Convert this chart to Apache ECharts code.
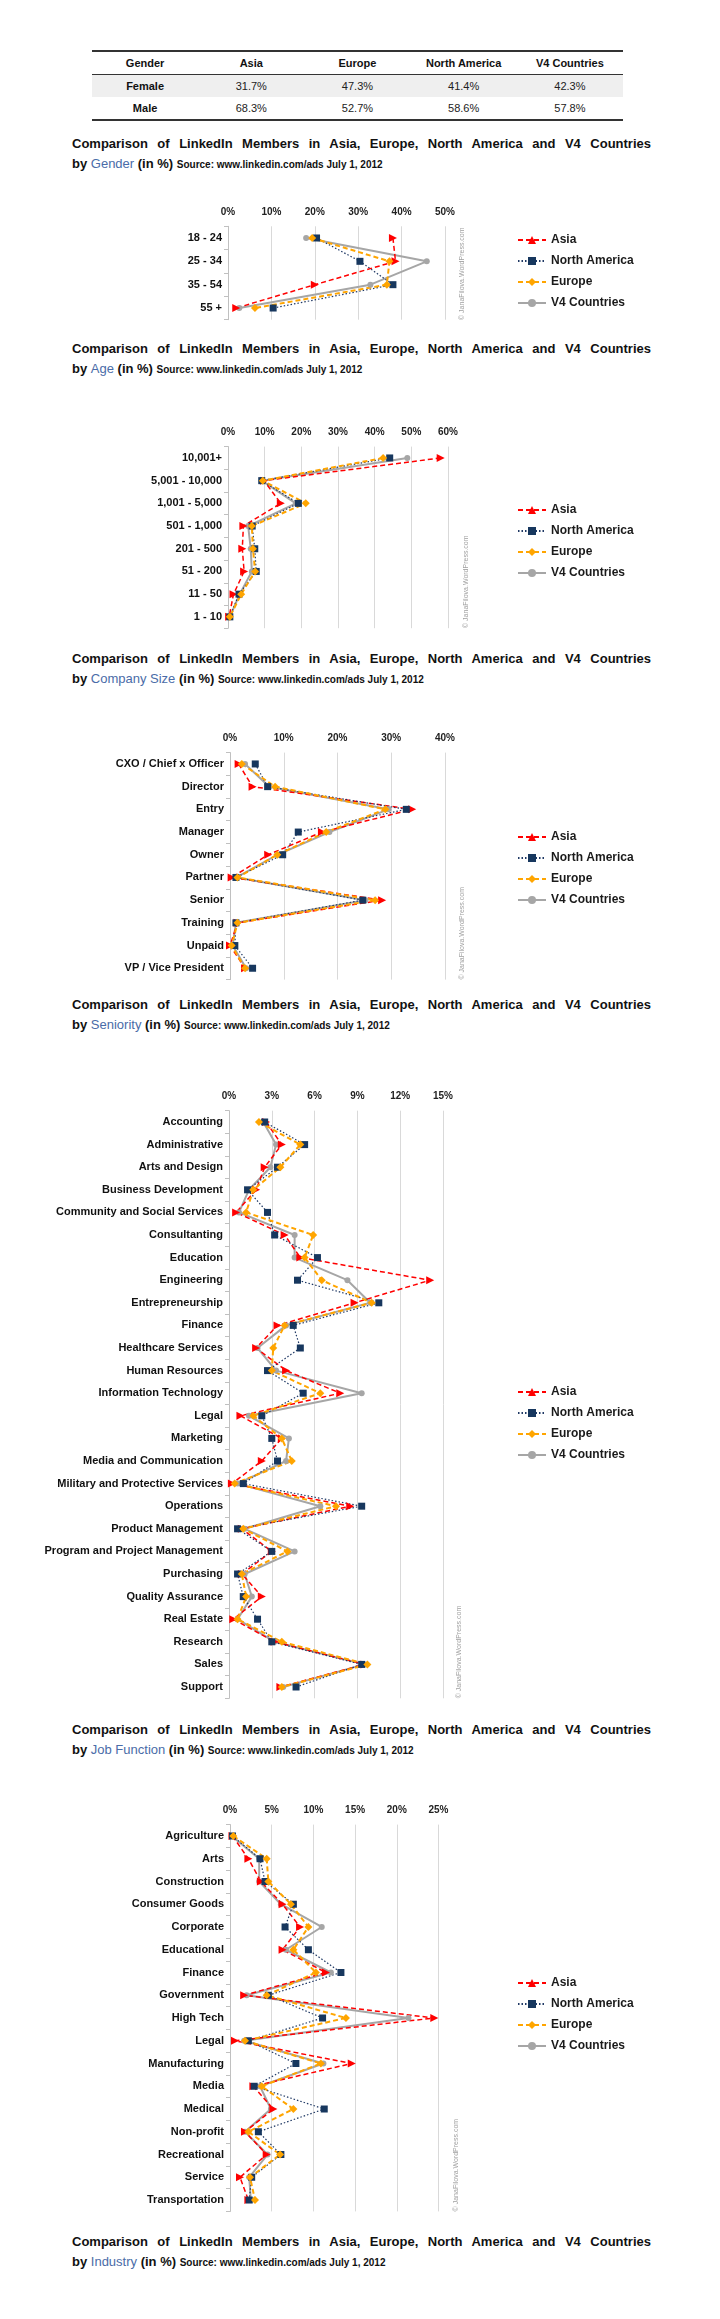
<!DOCTYPE html>
<html><head><meta charset="utf-8">
<script src="https://cdn.jsdelivr.net/npm/echarts@6/dist/echarts.min.js"></script>
<style>
html,body{margin:0;padding:0;background:#fff;}
body{width:720px;height:2319px;position:relative;font-family:"Liberation Sans",Arial,sans-serif;overflow:hidden;}
.abs{position:absolute;}
#tbl{left:92px;top:50px;width:531px;border-collapse:collapse;font-size:11px;color:#222;table-layout:fixed;}
#tbl td,#tbl th{text-align:center;padding:0;height:22px;width:20%;}
#tbl thead tr{border-top:2px solid #333;border-bottom:1.5px solid #333;}
#tbl th{font-weight:bold;color:#111;}
#tbl tbody tr:last-child{border-bottom:2px solid #333;}
#tbl tbody tr.alt{background:#efefef;}
#tbl td.first{font-weight:bold;color:#111;}
.t1{left:72px;width:579px;font-weight:bold;font-size:13px;line-height:16px;color:#111;text-align:justify;text-align-last:justify;}
.t2{left:72px;width:600px;font-weight:bold;font-size:13px;line-height:16px;color:#111;white-space:nowrap;}
.t2 .cat{color:#4a6ca8;font-weight:normal;}
.t2 .src{font-size:10px;}
.chart{left:0;width:720px;}
</style></head>
<body>
<table id="tbl" class="abs"><thead></thead><tbody></tbody></table>
<div id="titles"></div>
<div id="c1" class="abs chart" style="top:195px;height:135px"></div>
<div id="c2" class="abs chart" style="top:410px;height:230px"></div>
<div id="c3" class="abs chart" style="top:715px;height:275px"></div>
<div id="c4" class="abs chart" style="top:1075px;height:635px"></div>
<div id="c5" class="abs chart" style="top:1790px;height:430px"></div>
<script>
// ---------- DATA ----------
var tableHead = ['Gender','Asia','Europe','North America','V4 Countries'];
var femaleRow = ['Female','31.7%','47.3%','41.4%','42.3%'];
var maleRow   = ['Male','68.3%','52.7%','58.6%','57.8%'];

var titleLine1 = 'Comparison of LinkedIn Members in Asia, Europe, North America and V4 Countries';
var titleCats = ['Gender','Age','Company Size','Seniority','Job Function','Industry'];
var sourceText = 'Source: www.linkedin.com/ads July 1, 2012';
var seriesNames = ['Asia','North America','Europe','V4 Countries'];
var watermark = '\u00a9 JanaFilova.WordPress.com';

var ageCats = ['18 - 24','25 - 34','35 - 54','55 +'];
var ageAsia = [38.0, 38.6, 20.0, 1.9];
var ageNA = [20.4, 30.4, 38.0, 10.4];
var ageEurope = [19.4, 37.2, 36.6, 6.2];
var ageV4 = [18.0, 45.8, 32.8, 2.6];

var sizeCats = ['10,001+','5,001 - 10,000','1,001 - 5,000','501 - 1,000','201 - 500','51 - 200','11 - 50','1 - 10'];
var sizeAsia = [58.0, 9.8, 14.4, 4.2, 3.9, 4.4, 1.5, 0.3];
var sizeNA = [44.1, 9.2, 19.2, 6.6, 7.3, 7.7, 3.0, 0.5];
var sizeEurope = [42.3, 9.5, 21.2, 6.5, 6.8, 7.4, 3.6, 0.5];
var sizeV4 = [48.9, 9.2, 18.5, 5.5, 6.2, 6.5, 3.2, 0.5];

var senCats = ['CXO / Chief x Officer','Director','Entry','Manager','Owner','Partner','Senior','Training','Unpaid','VP / Vice President'];
var senAsia = [1.6, 4.2, 33.9, 17.1, 7.1, 0.3, 28.3, 1.4, 0.0, 2.8];
var senNA = [4.7, 7.0, 32.8, 12.7, 9.8, 1.1, 24.7, 1.1, 0.9, 4.2];
var senEurope = [2.2, 8.4, 28.9, 17.9, 8.8, 1.4, 27.0, 1.4, 0.3, 2.8];
var senV4 = [2.8, 7.3, 29.5, 18.5, 8.8, 1.2, 25.2, 1.1, 0.5, 3.0];

var jobCats = ['Accounting','Administrative','Arts and Design','Business Development','Community and Social Services','Consultanting','Education','Engineering','Entrepreneurship','Finance','Healthcare Services','Human Resources','Information Technology','Legal','Marketing','Media and Communication','Military and Protective Services','Operations','Product Management','Program and Project Management','Purchasing','Quality Assurance','Real Estate','Research','Sales','Support'];
var jobAsia = [2.6,3.7,2.5,1.9,0.5,3.9,5.0,14.1,8.8,3.4,1.9,4.0,7.8,0.8,3.7,2.3,0.2,8.5,0.9,3.0,0.9,2.3,0.3,3.2,9.5,3.6];
var jobNA = [2.5,5.3,3.4,1.3,2.7,3.2,6.2,4.8,10.5,4.5,5.0,2.7,5.2,2.3,3.0,3.4,1.0,9.3,0.6,3.0,0.6,1.0,2.0,3.0,9.3,4.7];
var jobEurope = [2.1,5.0,3.6,1.7,1.2,5.9,5.3,6.5,10.0,3.9,3.1,3.0,6.4,1.7,3.7,4.4,0.4,7.5,1.0,4.1,0.9,1.2,0.6,3.7,9.7,3.7];
var jobV4 = [2.4,3.3,2.9,1.4,0.7,4.6,4.6,8.3,9.9,4.0,2.0,3.3,9.3,1.4,4.2,4.0,0.6,6.4,1.1,4.6,1.1,1.6,0.6,3.2,9.5,3.8];

var indCats = ['Agriculture','Arts','Construction','Consumer Goods','Corporate','Educational','Finance','Government','High Tech','Legal','Manufacturing','Media','Medical','Non-profit','Recreational','Service','Transportation'];
var indAsia = [0.3,2.2,3.7,6.3,8.4,6.3,11.5,1.7,24.5,0.6,14.6,2.8,5.2,1.8,4.4,1.2,2.2];
var indNA = [0.3,3.6,4.2,7.6,6.6,9.4,13.3,4.6,11.1,2.2,7.9,2.9,11.3,3.4,6.1,2.6,2.3];
var indEurope = [0.4,4.4,4.6,7.3,9.4,7.6,10.3,4.4,13.9,1.8,10.9,3.8,7.6,2.2,6.0,2.4,3.0];
var indV4 = [0.2,3.5,3.5,6.1,11.0,6.7,12.1,2.0,21.4,1.7,11.2,3.6,4.9,1.8,4.5,2.3,2.5];

// ---------- LAYOUT ----------
var titleY = [136, 341, 651, 997, 1722, 2234];
var FONT = '"Liberation Sans", Arial, sans-serif';
var LEGFONT = '"Liberation Sans Narrow", "Arial Narrow", "Liberation Sans", Arial, sans-serif';

// table
(function(){
  var th = document.querySelector('#tbl thead');
  var tr = document.createElement('tr');
  tableHead.forEach(function(h){ var c=document.createElement('th'); c.textContent=h; tr.appendChild(c); });
  th.appendChild(tr);
  var tb = document.querySelector('#tbl tbody');
  [femaleRow, maleRow].forEach(function(row, i){
    var r = document.createElement('tr'); if(i===0) r.className='alt';
    row.forEach(function(v, j){ var c=document.createElement('td'); c.textContent=v; if(j===0) c.className='first'; r.appendChild(c); });
    tb.appendChild(r);
  });
})();

// titles
(function(){
  var host = document.getElementById('titles');
  titleCats.forEach(function(cat, i){
    var a = document.createElement('div'); a.className='abs t1'; a.style.top = titleY[i]+'px'; a.textContent = titleLine1; host.appendChild(a);
    var b = document.createElement('div'); b.className='abs t2'; b.style.top = (titleY[i]+20)+'px';
    b.innerHTML = 'by <span class="cat"></span> (in %) <span class="src"></span>';
    b.querySelector('.cat').textContent = cat;
    b.querySelector('.src').textContent = sourceText;
    host.appendChild(b);
  });
})();

function buildOption(cfg){
  return {
    animation:false,
    textStyle:{fontFamily:FONT},
    grid:{left:cfg.left, top:cfg.top, width:cfg.width, height:cfg.height},
    xAxis:{type:'value', position:'top', min:0, max:cfg.max, interval:cfg.interval,
      axisLine:{show:false}, axisTick:{show:false},
      axisLabel:{formatter:'{value}%', fontSize:10, fontWeight:'bold', color:'#222', margin:9, fontFamily:FONT},
      splitLine:{lineStyle:{color:'#d9d9d9', width:1}}},
    yAxis:{type:'category', inverse:true, data:cfg.cats,
      axisLine:{lineStyle:{color:'#c0c0c0', width:1}},
      axisTick:{show:true, length:4, lineStyle:{color:'#c0c0c0'}},
      axisLabel:{fontSize:11, fontWeight:'bold', color:'#111', margin:6, fontFamily:FONT}},
    legend:{orient:'vertical', left:512, top:cfg.legTop, itemWidth:28, itemHeight:10, itemGap:9,
      selectedMode:false, symbolRotate:0, data:seriesNames,
      textStyle:{fontSize:12, fontWeight:'bold', color:'#1a1a1a', fontFamily:LEGFONT}},
    graphic:[{type:'text', x:cfg.wmX, y:cfg.wmY, rotation:Math.PI/2,
      style:{text:watermark, fill:'#a0a0a0', fontSize:7, fontFamily:FONT, align:'left', verticalAlign:'middle'}}],
    series:[
      {name:seriesNames[3], type:'line', data:cfg.v4, symbol:'circle', symbolSize:6,
        lineStyle:{color:'#a6a6a6', width:2}, itemStyle:{color:'#a6a6a6'}},
      {name:seriesNames[0], type:'line', data:cfg.asia, symbol:'triangle', symbolRotate:-90, symbolSize:8,
        lineStyle:{color:'#ff0000', width:1.5, type:[5,3]}, itemStyle:{color:'#ff0000'}},
      {name:seriesNames[1], type:'line', data:cfg.na, symbol:'rect', symbolSize:7,
        lineStyle:{color:'#1f3864', width:1.2, type:[1.5,2]}, itemStyle:{color:'#17375e'}},
      {name:seriesNames[2], type:'line', data:cfg.eu, symbol:'diamond', symbolSize:8,
        lineStyle:{color:'#ffa500', width:2, type:[5,3]}, itemStyle:{color:'#ffa500'}}
    ]
  };
}

var charts = [
  {id:'c1', cats:ageCats, asia:ageAsia, na:ageNA, eu:ageEurope, v4:ageV4, max:50, interval:10,
   left:228, top:31.3, width:217, height:93.4, legTop:34, wmX:462, wmY:125},
  {id:'c2', cats:sizeCats, asia:sizeAsia, na:sizeNA, eu:sizeEurope, v4:sizeV4, max:60, interval:10,
   left:228, top:36.6, width:220, height:181.6, legTop:89, wmX:466, wmY:218},
  {id:'c3', cats:senCats, asia:senAsia, na:senNA, eu:senEurope, v4:senV4, max:40, interval:10,
   left:230, top:37.6, width:215, height:227, legTop:111, wmX:462, wmY:264.6},
  {id:'c4', cats:jobCats, asia:jobAsia, na:jobNA, eu:jobEurope, v4:jobV4, max:15, interval:3,
   left:229, top:35.7, width:214, height:587.6, legTop:306, wmX:459, wmY:623.3},
  {id:'c5', cats:indCats, asia:indAsia, na:indNA, eu:indEurope, v4:indV4, max:25, interval:5,
   left:230, top:34.6, width:208.5, height:386.8, legTop:182, wmX:456, wmY:421.4}
];
charts.forEach(function(cfg){
  var ch = echarts.init(document.getElementById(cfg.id), null, {renderer:'canvas'});
  ch.setOption(buildOption(cfg));
});
</script>
</body></html>
